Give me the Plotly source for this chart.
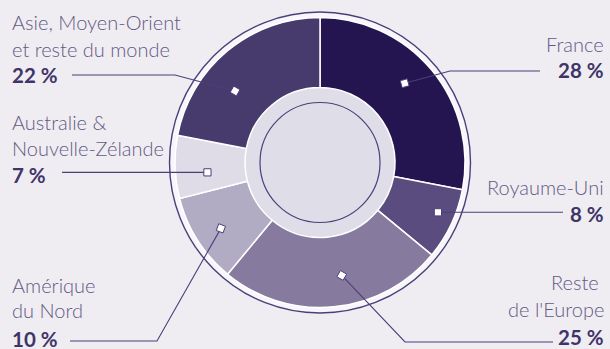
import math
import plotly.graph_objects as go

# ---- data ----
categories = ["France", "Royaume-Uni", "Reste de l'Europe", "Amérique du Nord",
              "Australie & Nouvelle-Zélande", "Asie, Moyen-Orient et reste du monde"]
values = [28, 8, 25, 10, 7, 22]
value_labels = ["28 %", "8 %", "25 %", "10 %", "7 %", "22 %"]
label_lines = [["France"], ["Royaume-Uni"], ["Reste\u00a0", "de l'Europe"],
               ["Amérique", "du Nord"], ["Australie &", "Nouvelle-Zélande"],
               ["Asie, Moyen-Orient", "et reste du monde"]]
colors = ["#241551", "#5b4c7f", "#867b9f", "#b1abc4", "#dfdce8", "#473a6c"]

# ---- layout / style ----
W, H = 610, 349
CX, CY = 320, 162.5
R, HOLE_R, INNER_R, RING_R = 145, 75, 60, 150.5
BG = "#efedf2"
LINE = "#4b3f7a"
TXT_LIGHT = "#635a84"
TXT_BOLD = "#3f3468"
FS = 20
FS_B = 20.5
FONT = "Lato"

# per label: side, text x, line baselines, bold baseline,
# marker angle offset (deg), marker radius, marker rotation, elbow x, line y, end x
label_layout = [
    dict(side="right", x=606, base=[52], bbase=78, dang=-3.5, mr=116, rot=-15, ex=450, ly=71, endx=540),
    dict(side="right", x=606, base=[195], bbase=222, dang=-2.3, mr=128, rot=0, ex=None, ly=None, endx=563),
    dict(side="right", x=606, base=[290, 317], bbase=345, dang=-5.5, mr=115, rot=30, ex=405, ly=342, endx=553),
    dict(side="left", x=10, base=[293, 318], bbase=347, dang=-1.2, mr=119, rot=20, ex=157, ly=341, endx=70),
    dict(side="left", x=10, base=[130, 156], bbase=183, dang=-3.2, mr=113, rot=0, ex=None, ly=None, endx=62),
    dict(side="left", x=10, base=[30, 57], bbase=83, dang=-10.3, mr=111, rot=30, ex=175, ly=75, endx=72),
]


def px(x):
    return x / W


def py(y):
    return 1 - y / H


fig = go.Figure()
fig.add_trace(go.Pie(
    labels=categories, values=values, sort=False, direction="clockwise", rotation=0,
    hole=HOLE_R / R, textinfo="none", hoverinfo="skip", showlegend=False,
    marker=dict(colors=colors, line=dict(color="#ffffff", width=1.5)),
    domain=dict(x=[px(CX - R), px(CX + R)], y=[py(CY + R), py(CY - R)]),
))

shapes = []
# outer ring and hole decoration
shapes.append(dict(type="circle", xref="paper", yref="paper", layer="below",
                   x0=px(CX - RING_R), x1=px(CX + RING_R), y0=py(CY + RING_R), y1=py(CY - RING_R),
                   fillcolor="#f7f6fa", line=dict(color=LINE, width=1.4)))
shapes.append(dict(type="circle", xref="paper", yref="paper", layer="below",
                   x0=px(CX - HOLE_R), x1=px(CX + HOLE_R), y0=py(CY + HOLE_R), y1=py(CY - HOLE_R),
                   fillcolor="#dfdde8", line=dict(width=0)))
shapes.append(dict(type="circle", xref="paper", yref="paper", layer="below",
                   x0=px(CX - INNER_R), x1=px(CX + INNER_R), y0=py(CY + INNER_R), y1=py(CY - INNER_R),
                   fillcolor="rgba(0,0,0,0)", line=dict(color=LINE, width=1.2)))

annotations = []
total = sum(values)
cum = 0
for i, v in enumerate(values):
    mid = (cum + v / 2) / total * 360
    cum += v
    L = label_layout[i]
    ang = math.radians(mid + L["dang"])
    mx = CX + L["mr"] * math.sin(ang)
    my = CY - L["mr"] * math.cos(ang)
    ly = L["ly"] if L["ly"] is not None else my
    pts = [(mx, my)]
    if L["ex"] is not None:
        pts.append((L["ex"], ly))
    pts.append((L["endx"], ly))
    path = "M " + " L ".join(f"{px(a):.5f},{py(b):.5f}" for a, b in pts)
    shapes.append(dict(type="path", xref="paper", yref="paper", layer="above", path=path,
                       line=dict(color=LINE, width=1.1)))
    # marker square
    h = 3.6
    rr = math.radians(L["rot"])
    corners = []
    for cx_, cy_ in [(-h, -h), (h, -h), (h, h), (-h, h)]:
        xr = cx_ * math.cos(rr) - cy_ * math.sin(rr)
        yr = cx_ * math.sin(rr) + cy_ * math.cos(rr)
        corners.append((mx + xr, my + yr))
    sq = "M " + " L ".join(f"{px(a):.5f},{py(b):.5f}" for a, b in corners) + " Z"
    shapes.append(dict(type="path", xref="paper", yref="paper", layer="above", path=sq,
                       fillcolor="#ffffff", line=dict(color=LINE, width=1)))
    # text
    anchor = L["side"]
    for t, b in zip(label_lines[i], L["base"]):
        annotations.append(dict(xref="paper", yref="paper", x=px(L["x"]), y=py(b - 0.387 * FS),
                                xanchor=anchor, yanchor="middle", text=t, showarrow=False,
                                font=dict(family=FONT, size=FS, color=TXT_LIGHT, weight=300)))
    annotations.append(dict(xref="paper", yref="paper", x=px(L["x"]), y=py(L["bbase"] - 0.387 * FS_B),
                            xanchor=anchor, yanchor="middle", text=value_labels[i], showarrow=False,
                            font=dict(family=FONT, size=FS_B, color=TXT_BOLD, weight=700)))

fig.update_layout(
    width=W, height=H, margin=dict(l=0, r=0, t=0, b=0),
    paper_bgcolor=BG, plot_bgcolor=BG, shapes=shapes, annotations=annotations,
)
fig.write_html("out.html")
